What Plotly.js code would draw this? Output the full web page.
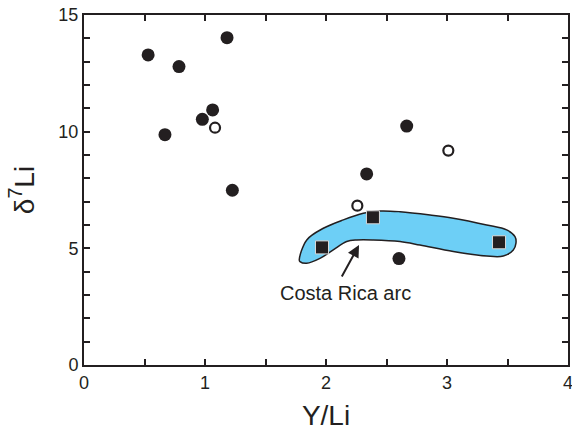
<!DOCTYPE html>
<html>
<head>
<meta charset="utf-8">
<script src="https://cdn.plot.ly/plotly-3.0.1.min.js"></script>
<style>html,body{margin:0;padding:0;background:#fff;}#chart{width:572px;height:438px;}</style>
</head>
<body>
<div id="chart"></div>
<script>
// Filled circles
const filledX = [0.53, 0.785, 1.182, 1.063, 0.978, 0.669, 1.226, 2.667, 2.336, 2.603];
const filledY = [13.29, 12.79, 14.03, 10.93, 10.53, 9.87, 7.49, 10.24, 8.19, 4.56];
// Open circles
const openX = [1.083, 3.011, 2.259];
const openY = [10.17, 9.19, 6.83];
// Costa Rica arc squares
const sqX = [2.388, 1.967, 3.43];
const sqY = [6.33, 5.04, 5.26];
// Costa Rica arc field outline
const fieldX = [1.779, 1.841, 1.978, 2.143, 2.308, 2.446, 2.612, 2.860, 3.052, 3.328, 3.493, 3.562, 3.570, 3.548, 3.465, 3.328, 3.052, 2.777, 2.612, 2.391, 2.254, 2.171, 2.060, 1.950, 1.841, 1.785, 1.779];
const fieldY = [4.50, 5.36, 5.86, 6.22, 6.50, 6.60, 6.57, 6.43, 6.29, 6.00, 5.79, 5.50, 5.22, 4.93, 4.67, 4.67, 4.86, 5.14, 5.29, 5.36, 5.36, 5.29, 4.93, 4.57, 4.36, 4.43, 4.50];
// Axis tick labels (major) and minor tick spacing
const xTicks = [0, 1, 2, 3, 4];
const yTicks = [0, 5, 10, 15];
const xMinorStep = 0.5;
const yMinorStep = 1;
const fieldLabel = 'Costa Rica arc';
const fieldLabelPos = [2.165, 3.09];
const arrowTip = [2.273, 5.14];
const arrowTail = [2.124, 3.73];

const ink = '#231F20';
const traces = [
  {x: fieldX, y: fieldY, type: 'scatter', mode: 'lines', fill: 'toself',
   fillcolor: '#6DCFF6', line: {color: ink, width: 1.5, shape: 'spline', smoothing: 1}, hoverinfo: 'skip'},
  {x: filledX, y: filledY, type: 'scatter', mode: 'markers',
   marker: {symbol: 'circle', size: 13, color: ink, line: {width: 0}}},
  {x: openX, y: openY, type: 'scatter', mode: 'markers',
   marker: {symbol: 'circle-open', size: 10, color: ink, line: {width: 2.2, color: ink}}},
  {x: sqX, y: sqY, type: 'scatter', mode: 'markers',
   marker: {symbol: 'square', size: 13, color: ink, line: {width: 1, color: '#d8d8d8'}}}
];

const tickFont = {family: 'Liberation Sans, Arial, sans-serif', size: 18, color: ink};

const layout = {
  width: 572, height: 438,
  margin: {l: 84, r: 4, t: 15, b: 73},
  showlegend: false,
  font: {family: 'Liberation Sans, Arial, sans-serif', color: ink},
  xaxis: {
    range: [xTicks[0], xTicks[xTicks.length - 1]], tick0: xTicks[0], dtick: xTicks[1] - xTicks[0],
    ticks: 'inside', ticklen: 6, tickwidth: 2, tickcolor: ink,
    minor: {dtick: xMinorStep, ticks: 'inside', ticklen: 6, tickwidth: 2, tickcolor: ink},
    showline: true, linecolor: ink, linewidth: 2, mirror: 'ticks',
    showgrid: false, zeroline: false, tickfont: tickFont, ticklabeloverflow: 'allow',
    title: {text: 'Y/Li', font: {size: 28, color: ink}, standoff: 14}
  },
  yaxis: {
    range: [yTicks[0], yTicks[yTicks.length - 1]], tick0: yTicks[0], dtick: yTicks[1] - yTicks[0],
    ticks: 'inside', ticklen: 6, tickwidth: 2, tickcolor: ink,
    minor: {dtick: yMinorStep, ticks: 'inside', ticklen: 6, tickwidth: 2, tickcolor: ink},
    showline: true, linecolor: ink, linewidth: 2, mirror: 'ticks',
    showgrid: false, zeroline: false, tickfont: tickFont, ticklabeloverflow: 'allow',
    title: {text: 'δ<sup>7</sup>Li', font: {size: 28, color: ink}, standoff: 16}
  },
  annotations: [
    {x: fieldLabelPos[0], y: fieldLabelPos[1], xref: 'x', yref: 'y', text: fieldLabel,
     showarrow: false, font: {size: 20, color: ink}},
    {x: arrowTip[0], y: arrowTip[1], ax: arrowTail[0], ay: arrowTail[1], xref: 'x', yref: 'y',
     axref: 'x', ayref: 'y', text: '', showarrow: true, arrowhead: 2, arrowsize: 1.2,
     arrowwidth: 2, arrowcolor: ink}
  ]
};

Plotly.newPlot('chart', traces, layout, {displayModeBar: false});
</script>
</body>
</html>
